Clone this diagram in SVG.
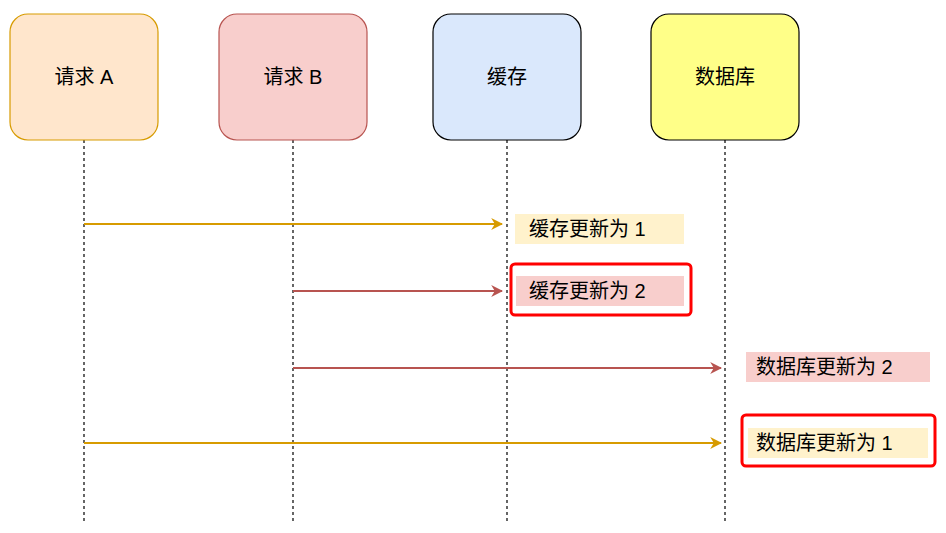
<svg xmlns="http://www.w3.org/2000/svg" width="946" height="533" viewBox="0 0 946 533">
<style>
text{font-family:"Liberation Sans","Noto Sans CJK SC",sans-serif;font-size:20px;fill:#000;dominant-baseline:central;}
.n{stroke-width:1.2}
.life{stroke:#000;stroke-dasharray:3 3;stroke-width:1.2}
.hl{fill:none;stroke:#ff0000;stroke-width:3}
</style>
<defs>
<marker id="mo" viewBox="0 0 10 10" refX="9" refY="5" markerWidth="6" markerHeight="6" orient="auto"><path d="M0,0 L10,5 L0,10 L3,5 Z" fill="#d79b00"/></marker>
<marker id="mr" viewBox="0 0 10 10" refX="9" refY="5" markerWidth="6" markerHeight="6" orient="auto"><path d="M0,0 L10,5 L0,10 L3,5 Z" fill="#b85450"/></marker>
</defs>
<rect width="946" height="533" fill="#fff"/>
<g id="lifelines">
<line class="life" x1="84" y1="140" x2="84" y2="521"/>
<line class="life" x1="293" y1="140" x2="293" y2="521"/>
<line class="life" x1="507" y1="140" x2="507" y2="521"/>
<line class="life" x1="725" y1="140" x2="725" y2="521"/>
</g>
<g id="reqA"><rect class="n" x="10" y="14" width="148" height="126" rx="18" fill="#ffe6cc" stroke="#d79b00"/><text x="84" y="77" text-anchor="middle">请求 A</text></g>
<g id="reqB"><rect class="n" x="219" y="14" width="148" height="126" rx="18" fill="#f8cecc" stroke="#b85450"/><text x="293" y="77" text-anchor="middle">请求 B</text></g>
<g id="cache"><rect class="n" x="433" y="14" width="148" height="126" rx="18" fill="#dae8fc" stroke="#000"/><text x="507" y="77" text-anchor="middle">缓存</text></g>
<g id="db"><rect class="n" x="651" y="14" width="148" height="126" rx="18" fill="#ffff88" stroke="#000"/><text x="725" y="77" text-anchor="middle">数据库</text></g>
<g id="connectors" stroke-width="2">
<line x1="84" y1="224" x2="502" y2="224" stroke="#d79b00" marker-end="url(#mo)"/>
<line x1="293" y1="291" x2="502" y2="291" stroke="#b85450" marker-end="url(#mr)"/>
<line x1="293" y1="368" x2="721" y2="368" stroke="#b85450" marker-end="url(#mr)"/>
<line x1="84" y1="443" x2="721" y2="443" stroke="#d79b00" marker-end="url(#mo)"/>
</g>
<g id="l1"><rect x="515" y="214" width="169" height="30" fill="#fff2cc"/><text x="529" y="229">缓存更新为 1</text></g>
<g id="l2"><rect x="516" y="276" width="168" height="30" fill="#f8cecc"/><text x="529" y="291">缓存更新为 2</text><rect class="hl" x="511" y="264" width="180" height="51" rx="4"/></g>
<g id="l3"><rect x="746" y="352" width="184" height="30" fill="#f8cecc"/><text x="756" y="367">数据库更新为 2</text></g>
<g id="l4"><rect x="748" y="428" width="180" height="30" fill="#fff2cc"/><text x="756" y="443">数据库更新为 1</text><rect class="hl" x="742" y="415" width="193" height="51" rx="4"/></g>
</svg>
